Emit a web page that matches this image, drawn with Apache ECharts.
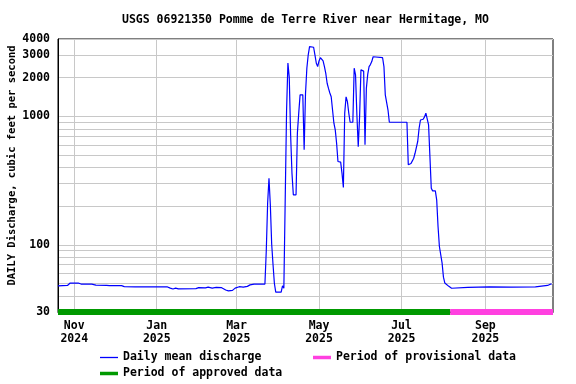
<!DOCTYPE html>
<html><head><meta charset="utf-8">
<script src="https://cdn.jsdelivr.net/npm/echarts@6/dist/echarts.min.js"></script>
<style>html,body{margin:0;padding:0;background:#fff}#c{width:576px;height:384px}</style>
</head><body><div id="c"></div>
<script>
const chartTitle = 'USGS 06921350 Pomme de Terre River near Hermitage, MO';
const yAxisTitle = 'DAILY Discharge, cubic feet per second';

const dischargeDates = [
 '2024-10-20','2024-10-27','2024-10-29','2024-11-04','2024-11-06','2024-11-14','2024-11-17','2024-11-25','2024-11-27','2024-12-06',
 '2024-12-08','2024-12-16','2025-01-09','2025-01-11','2025-01-13','2025-01-15','2025-01-17','2025-01-30','2025-02-01','2025-02-06',
 '2025-02-08','2025-02-11','2025-02-14','2025-02-18','2025-02-21','2025-02-23','2025-02-26','2025-02-28','2025-03-03','2025-03-06',
 '2025-03-09','2025-03-11','2025-03-14','2025-03-22','2025-03-23','2025-03-24','2025-03-25','2025-03-26','2025-03-27','2025-03-28',
 '2025-03-29','2025-03-30','2025-04-03','2025-04-04','2025-04-05','2025-04-06','2025-04-07','2025-04-08','2025-04-09','2025-04-10',
 '2025-04-11','2025-04-12','2025-04-14','2025-04-15','2025-04-16','2025-04-17','2025-04-19','2025-04-20','2025-04-21','2025-04-22',
 '2025-04-23','2025-04-24','2025-04-27','2025-04-28','2025-04-29','2025-04-30','2025-05-01','2025-05-02','2025-05-03','2025-05-04',
 '2025-05-05','2025-05-06','2025-05-07','2025-05-08','2025-05-09','2025-05-10','2025-05-11','2025-05-12','2025-05-13','2025-05-14',
 '2025-05-15','2025-05-17','2025-05-18','2025-05-19','2025-05-20','2025-05-21','2025-05-22','2025-05-23','2025-05-24','2025-05-26',
 '2025-05-27','2025-05-28','2025-05-29','2025-05-30','2025-05-31','2025-06-01','2025-06-02','2025-06-03','2025-06-04','2025-06-05',
 '2025-06-06','2025-06-07','2025-06-08','2025-06-09','2025-06-10','2025-06-17','2025-06-18','2025-06-19','2025-06-20','2025-06-21',
 '2025-06-22','2025-07-05','2025-07-06','2025-07-07','2025-07-08','2025-07-09','2025-07-10','2025-07-11','2025-07-12','2025-07-13',
 '2025-07-14','2025-07-15','2025-07-17','2025-07-18','2025-07-19','2025-07-20','2025-07-21','2025-07-22','2025-07-23','2025-07-24',
 '2025-07-26','2025-07-27','2025-07-28','2025-07-29','2025-07-30','2025-07-31','2025-08-01','2025-08-02','2025-08-03','2025-08-05',
 '2025-08-07','2025-08-08','2025-08-19','2025-08-20','2025-09-04','2025-09-20','2025-10-08','2025-10-09','2025-10-17','2025-10-18',
 '2025-10-19','2025-10-20'
];
const dischargeValues = [
 48,48.3,50.4,50.4,49.5,49.5,48.6,48.4,48.1,48.1,
 47.3,47.0,47.0,46.0,45.3,46.0,45.4,45.6,46.4,46.2,
 46.8,46.0,46.6,46.4,44.5,43.8,44.2,46.0,47.2,46.8,
 47.5,48.8,49.5,49.5,90,211,330,205,101,70,
 50,42.9,42.9,48,46,44.5,1100,2600,2000,720,
 360,245,245,740,1060,1470,1470,550,1500,2370,
 3000,3490,3450,3000,2590,2440,2700,2860,2860,2700,
 2440,2160,1810,1650,1520,1420,1120,884,784,617,
 445,440,360,280,1060,1420,1300,1060,900,900,
 2370,2100,1025,581,995,2300,2300,2250,600,1650,
 2120,2440,2530,2670,2910,2860,2440,1470,1450,1120,
 900,900,420,406,430,450,472,516,516,640,
 808,937,950,990,1060,1060,857,486,276,263,
 263,224,139,97,94,72,56,50.5,48.8,47.5,
 45.9,46.6,46.6,47,47,46.9,47.1,48.3,48.3,48,
 49.4,49.4
];
const approvedPeriod = ['2024-10-20', '2025-08-06'];
const provisionalPeriod = ['2025-08-06', '2025-10-21'];
const periodLevel = 30;
const xRange = ['2024-10-20', '2025-10-21'];
const xTickDates = ['2024-11-01','2025-01-01','2025-03-01','2025-05-01','2025-07-01','2025-09-01'];
const monthNames = ['Jan','Feb','Mar','Apr','May','Jun','Jul','Aug','Sep','Oct','Nov','Dec'];
const yRange = [30, 4000];
const yLabelValues = [30, 100, 1000, 2000, 3000, 4000];
const yGridValues = [30,40,50,60,70,80,90,100,200,300,400,500,600,700,800,900,1000,2000,3000,4000];

function t(s) { const p = s.split('-').map(Number); return new Date(p[0], p[1]-1, p[2]).getTime(); }

const font = { fontFamily: "'DejaVu Sans Mono', monospace", fontWeight: 'bold', fontSize: 11.5, color: '#000' };
const chart = echarts.init(document.getElementById('c'), null, { renderer: 'canvas' });

const xTicks = xTickDates.map(t);
chart.setOption({
  animation: false,
  backgroundColor: '#fff',
  title: { text: chartTitle, left: 122, top: 14, padding: 0, textStyle: Object.assign({}, font) },
  grid: { left: 58, right: 23, top: 39, bottom: 72, show: true, borderColor: '#000', borderWidth: 1,
          containLabel: false, outerBoundsMode: 'none' },
  xAxis: {
    type: 'value', min: t(xRange[0]), max: t(xRange[1]), scale: true,
    axisLine: { show: true, onZero: false, lineStyle: { color: '#000', width: 1 } },
    axisTick: { show: false, customValues: xTicks },
    splitLine: { show: true, lineStyle: { color: '#c8c8c8', width: 1 } },
    axisLabel: Object.assign({}, font, {
      customValues: xTicks, margin: 7, lineHeight: 13.5,
      formatter: function (v) { const d = new Date(v); return monthNames[d.getMonth()] + '\n' + d.getFullYear(); }
    })
  },
  yAxis: {
    type: 'log', logBase: 10, min: yRange[0], max: yRange[1],
    name: yAxisTitle, nameLocation: 'middle', nameGap: 40, nameMoveOverlap: false,
    nameTextStyle: Object.assign({}, font, { fontSize: 10.5, padding: [0, 0, 0, 20] }),
    axisLine: { show: true, lineStyle: { color: '#000', width: 1 } },
    axisTick: { show: false, customValues: yGridValues },
    splitLine: { show: true, lineStyle: { color: '#c8c8c8', width: 1 } },
    axisLabel: Object.assign({}, font, { customValues: yLabelValues, margin: 8, formatter: function (v) { return String(Math.round(v)); } })
  },
  legend: [
    { data: [
        { name: 'Daily mean discharge', icon: 'path://M0,0H18V1.3H0Z' },
        { name: 'Period of provisional data', icon: 'path://M0,0H18V3.5H0Z' } ],
      left: 100, top: 351.5, padding: 0, itemGap: 51.5, itemWidth: 18, itemHeight: 14,
      selectedMode: false, itemStyle: { borderWidth: 0 }, textStyle: Object.assign({}, font) },
    { data: [ { name: 'Period of approved data', icon: 'path://M0,0H18V3.5H0Z' } ],
      left: 100, top: 367.5, padding: 0, itemWidth: 18, itemHeight: 14,
      selectedMode: false, itemStyle: { borderWidth: 0 }, textStyle: Object.assign({}, font) }
  ],
  series: [
    { name: 'Daily mean discharge', type: 'line', symbol: 'none', z: 3,
      lineStyle: { color: '#0000ff', width: 1.2 }, itemStyle: { color: '#0000ff' },
      data: dischargeDates.map((d, i) => [t(d), dischargeValues[i]]) },
    { name: 'Period of approved data', type: 'line', symbol: 'none', z: 4,
      lineStyle: { color: '#009900', width: 6 }, itemStyle: { color: '#009900' },
      data: approvedPeriod.map(d => [t(d), periodLevel]) },
    { name: 'Period of provisional data', type: 'line', symbol: 'none', z: 4,
      lineStyle: { color: '#ff40e0', width: 6 }, itemStyle: { color: '#ff40e0' },
      data: provisionalPeriod.map(d => [t(d), periodLevel]) }
  ]
});
</script></body></html>
